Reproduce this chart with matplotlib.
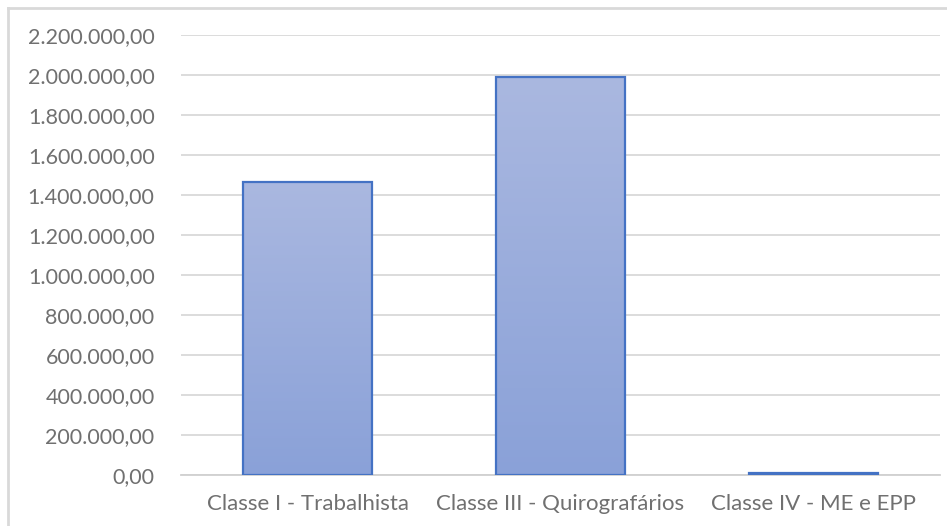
import matplotlib
matplotlib.use("Agg")
import matplotlib.pyplot as plt
import numpy as np
from matplotlib.ticker import FuncFormatter, MultipleLocator
from matplotlib.colors import LinearSegmentedColormap
from matplotlib.lines import Line2D

categories = ["Classe I - Trabalhista", "Classe III - Quirografários", "Classe IV - ME e EPP"]
values = [1467500, 1988000, 11000]

plt.rcParams['font.family'] = ['Lato', 'DejaVu Sans']

fig = plt.figure(figsize=(9.47, 5.26), dpi=100)
ax = fig.add_axes([181/947, 1-475/526, (940-181)/947, (475-35)/526])

x = np.arange(len(categories))
bars = ax.bar(x, values, width=0.51, facecolor='none', edgecolor='#4472c4', linewidth=1.6, zorder=3)

cmap = LinearSegmentedColormap.from_list('g', ['#8aa1d8', '#aab8e0'])
grad = np.linspace(0, 1, 256).reshape(-1, 1)
for b in bars:
    x0, y0 = b.get_x(), b.get_y()
    w, h = b.get_width(), b.get_height()
    im = ax.imshow(grad, extent=[x0, x0 + w, y0, y0 + h], origin='lower',
                   cmap=cmap, aspect='auto', zorder=2)
    im.set_clip_path(b)

ax.set_xlim(-0.5, 2.5)
ax.set_ylim(0, 2200000)
ax.yaxis.set_major_locator(MultipleLocator(200000))

def br(v, pos):
    s = f"{v:,.2f}"
    return s.replace(",", "X").replace(".", ",").replace("X", ".")
ax.yaxis.set_major_formatter(FuncFormatter(br))

ax.set_xticks(x)
ax.set_xticklabels(categories)
ax.grid(axis='y', color='#d9d9d9', linewidth=1.3, zorder=0)
ax.set_axisbelow(True)
for s in ['top', 'right', 'left']:
    ax.spines[s].set_visible(False)
ax.spines['bottom'].set_color('#d0d0d0')
ax.spines['bottom'].set_linewidth(1.3)
ax.tick_params(axis='both', length=0, colors='#707070')
ax.tick_params(axis='y', pad=19, labelsize=15.5)
ax.tick_params(axis='x', pad=14, labelsize=16)

# outer chart border
fig.add_artist(Line2D([8/947, 8/947], [0, 1-8/526], transform=fig.transFigure, color='#d9d9d9', linewidth=2))
fig.add_artist(Line2D([8/947, 1], [1-8/526, 1-8/526], transform=fig.transFigure, color='#d9d9d9', linewidth=2))

fig.savefig("out.png", dpi=100)
